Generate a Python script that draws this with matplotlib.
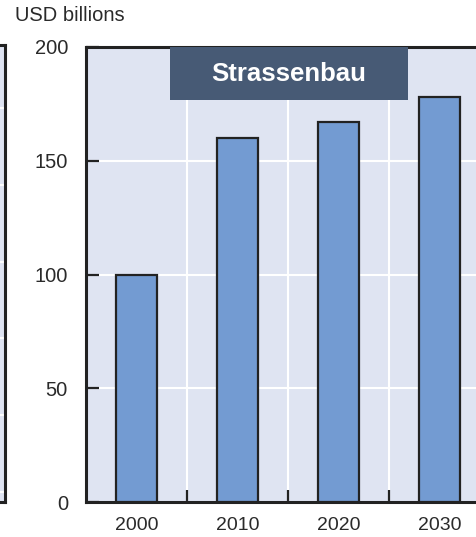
import matplotlib
matplotlib.use("Agg")
import matplotlib.pyplot as plt
from matplotlib.patches import Rectangle
import numpy as np

years = ["2000", "2010", "2020", "2030"]
values = [100, 160, 167, 178]
y_ticks = [0, 50, 100, 150, 200]
title = "Strassenbau"
unit_label = "USD billions"

BG = "#DFE4F2"
BAR = "#739BD2"
EDGE = "#222222"
BOX = "#475A75"
TXT = "#2a2a2a"

plt.rcParams['font.family'] = ['Liberation Sans', 'DejaVu Sans']

W, H = 477, 537
fig = plt.figure(figsize=(W / 100, H / 100), dpi=100)

# sliver of neighbouring panel on the left
axl = fig.add_axes([-0.1, 1 - 502 / H, 0.1 + 5 / W, 457 / H])
axl.set_facecolor(BG)
axl.set_xlim(0, 1)
axl.set_ylim(-13, 582)
axl.set_yticks([0, 100, 200, 300, 400, 500])
axl.set_xticks([])
axl.tick_params(axis='y', length=0, labelleft=False)
axl.grid(axis='y', color='white', lw=1.5)
for s in axl.spines.values():
    s.set_color(EDGE)
    s.set_linewidth(2.2)

# main panel
ax = fig.add_axes([86 / W, 1 - 502 / H, 404 / W, 455 / H])
ax.set_facecolor(BG)
x = np.arange(len(years))
ax.bar(x, values, width=0.4, color=BAR, edgecolor=EDGE, linewidth=1.6, zorder=3)
ax.set_xlim(-0.5, len(years) - 0.5)
ax.set_ylim(0, 200)
ax.set_yticks(y_ticks)
ax.set_xticks(x)
ax.set_xticklabels(years)
ax.set_xticks(np.arange(len(years) - 1) + 0.5, minor=True)
ax.tick_params(axis='y', direction='in', length=9, width=1.6, color=EDGE,
               labelsize=14.5, labelcolor=TXT, pad=13)
ax.tick_params(axis='x', which='major', length=0, labelsize=14,
               labelcolor=TXT, pad=11)
ax.tick_params(axis='x', which='minor', direction='in', length=8.5,
               width=1.6, color=EDGE)
ax.grid(axis='y', color='white', lw=1.5, zorder=1)
ax.grid(axis='x', which='minor', color='white', lw=1.5, zorder=1)
ax.set_axisbelow(True)
for s in ax.spines.values():
    s.set_color(EDGE)
    s.set_linewidth(2.2)

# title box
ax.add_patch(Rectangle((0.208, 0.8835), 0.589, 0.1165, transform=ax.transAxes,
                       facecolor=BOX, edgecolor='none', zorder=5))
ax.text(0.5025, 0.9415, title, transform=ax.transAxes, ha='center', va='center',
        color='white', fontsize=18.5, fontweight='bold', zorder=6)

fig.text(15 / W, 1 - 6 / H, unit_label, ha='left', va='top',
         fontsize=14.5, color=TXT)

fig.savefig("out.png", dpi=100)
